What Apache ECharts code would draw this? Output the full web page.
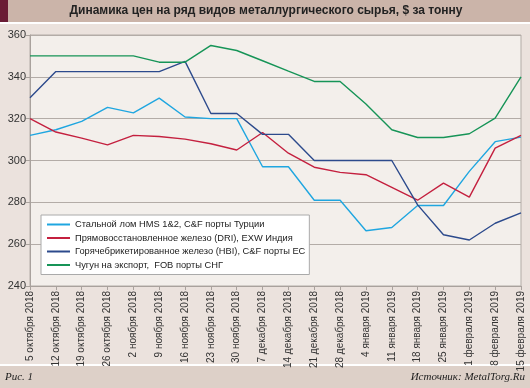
<!DOCTYPE html>
<html><head><meta charset="utf-8">
<script src="https://cdn.jsdelivr.net/npm/echarts@6/dist/echarts.min.js"></script>
<style>html,body{margin:0;padding:0;background:#ebe2dd}#c{width:530px;height:388px}</style>
</head><body><div id="c"></div>
<script>
const categories = ['5 октября 2018','12 октября 2018','19 октября 2018','26 октября 2018','2 ноября 2018','9 ноября 2018','16 ноября 2018','23 ноября 2018','30 ноября 2018','7 декабря 2018','14 декабря 2018','21 декабря 2018','28 декабря 2018','4 января 2019','11 января 2019','18 января 2019','25 января 2019','1 февраля 2019','8 февраля 2019','15 февраля 2019'];
const scrap = [312,314.7,318.7,325.4,322.8,329.8,320.8,320,320,297,297,281,281,266.4,268,278.5,278.5,294.8,309,311.2];
const dri = [320,313.6,310.7,307.5,312,311.5,310.2,308,305,313.4,303.5,296.8,294.3,293.2,287.1,281,289.2,282.5,305.9,312];
const hbi = [330,342.5,342.5,342.5,342.5,342.5,347.4,322.5,322.5,312.5,312.5,300,300,300,300,278.8,264.5,262,270,275];
const pigIron = [350,350,350,350,350,347,347,355,352.6,347.7,342.7,337.8,337.8,327,314.7,311,311,312.8,320.3,340];
const seriesNames = ['Стальной лом HMS 1&2, C&F порты Турции','Прямовосстановленное железо (DRI), EXW Индия','Горячебрикетированное железо (HBI), C&F порты ЕС','Чугун на экспорт,  FOB порты СНГ'];
const yTicks = [240,260,280,300,320,340,360];
const colors = ['#1fa6e0','#c4203f','#2c4a8c','#169457'];

const chart = echarts.init(document.getElementById('c'), null, {renderer:'canvas'});
const data = [scrap, dri, hbi, pigIron];
chart.setOption({
  animation:false,
  backgroundColor:'#ebe2dd',
  color: colors,
  textStyle:{fontFamily:'Liberation Sans, Arial, sans-serif'},
  graphic:[
    {type:'rect', shape:{x:0,y:0,width:530,height:22}, style:{fill:'#cbb4a9'}, z:-1},
    {type:'rect', shape:{x:0,y:0,width:8,height:22}, style:{fill:'#6a1c35'}, z:-1},
    {type:'rect', shape:{x:0,y:22,width:530,height:2}, style:{fill:'#ffffff'}, z:-1},
    {type:'text', x:266, y:11, style:{text:'Динамика цен на ряд видов металлургического сырья, $ за тонну', fill:'#222', font:'bold 12px "Liberation Sans", Arial, sans-serif', align:'center', verticalAlign:'middle'}},
    {type:'rect', shape:{x:0,y:364,width:530,height:2}, style:{fill:'#ffffff'}, z:-1},
    {type:'rect', shape:{x:0,y:366,width:530,height:22}, style:{fill:'#ddd0c8'}, z:-1},
    {type:'text', x:5, y:377, style:{text:'Рис. 1', fill:'#222', font:'italic 11px "Liberation Serif", "Times New Roman", serif', align:'left', verticalAlign:'middle'}},
    {type:'text', x:525, y:377, style:{text:'Источник: MetalTorg.Ru', fill:'#222', font:'italic 11px "Liberation Serif", "Times New Roman", serif', align:'right', verticalAlign:'middle'}}
  ],
  grid:{left:30, right:9, top:35, bottom:102, show:true, backgroundColor:'#f3efeb', borderColor:'#b3aca7', borderWidth:1},
  legend:{
    orient:'vertical', left:41, top:215,
    data: seriesNames,
    icon:'rect', itemWidth:23, itemHeight:2, itemGap:4.5,
    padding:[5,4,5,6],
    backgroundColor:'#ffffff', borderColor:'#aaa', borderWidth:1,
    textStyle:{fontSize:9.3, color:'#222', fontFamily:'Liberation Sans, Arial, sans-serif'}
  },
  xAxis:{
    type:'category', data:categories, boundaryGap:false,
    axisLine:{lineStyle:{color:'#a9a29d'}},
    axisTick:{show:true, alignWithLabel:true, length:4, lineStyle:{color:'#a9a29d'}},
    axisLabel:{rotate:90, fontSize:10, color:'#333', margin:5, interval:0},
    splitLine:{show:false}
  },
  yAxis:{
    type:'value', min:240, max:360, interval:20,
    axisLine:{show:true, lineStyle:{color:'#a9a29d'}},
    axisTick:{show:true, length:4, lineStyle:{color:'#a9a29d'}},
    axisLabel:{fontSize:11, color:'#333', margin:4, formatter:v=>yTicks.includes(v)?String(v):''},
    splitLine:{show:true, lineStyle:{color:'#b3aca7', width:1}}
  },
  series: data.map((d,i)=>({
    name:seriesNames[i], type:'line', data:d, symbol:'none',
    lineStyle:{width:1.4, color:colors[i]}, itemStyle:{color:colors[i]}
  }))
});
</script></body></html>
